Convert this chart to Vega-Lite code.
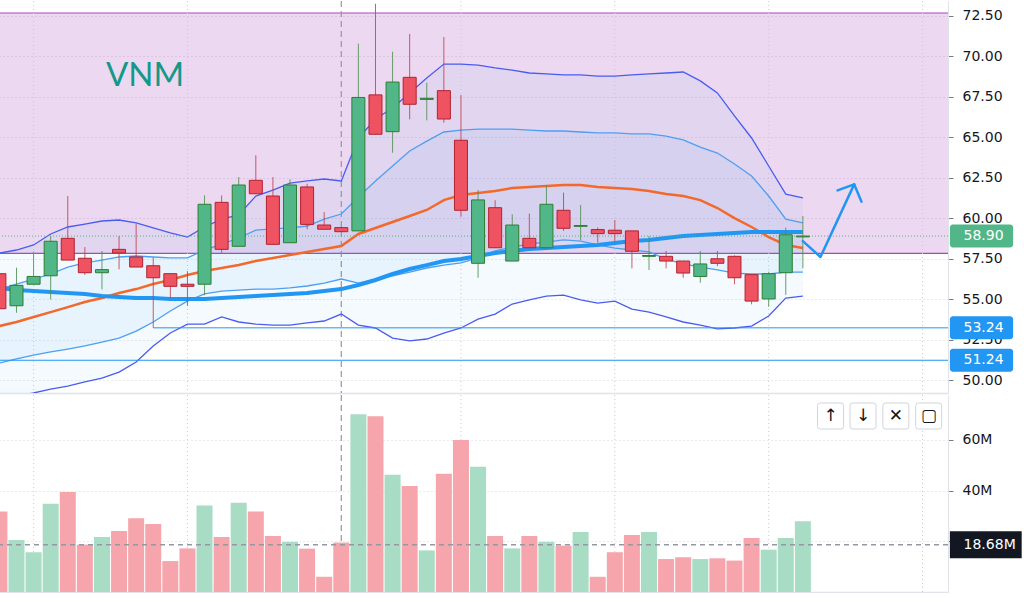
{
  "$schema": "https://vega.github.io/schema/vega-lite/v6.json",
  "padding": {"left": -4, "top": 0, "right": 0, "bottom": 0},
  "background": "white",
  "spacing": 0,
  "datasets": {
    "candles": [
      {"i":0,"o":56.58,"h":56.80,"l":54.10,"c":54.42,"v":31.8,"ub":57.85,"ib":55.63,"ma":53.35,"ma2":55.70,"il":51.07,"lb":48.85},
      {"i":1,"o":54.60,"h":56.95,"l":54.17,"c":55.86,"v":20.5,"ub":58.04,"ib":55.94,"ma":53.60,"ma2":55.57,"il":51.32,"lb":49.03},
      {"i":2,"o":55.93,"h":57.94,"l":55.90,"c":56.41,"v":15.7,"ub":58.35,"ib":56.25,"ma":53.91,"ma2":55.51,"il":51.56,"lb":49.22},
      {"i":3,"o":56.45,"h":58.90,"l":54.99,"c":58.58,"v":34.8,"ub":59.03,"ib":56.56,"ma":54.21,"ma2":55.45,"il":51.75,"lb":49.46},
      {"i":4,"o":58.76,"h":61.37,"l":57.42,"c":57.42,"v":39.5,"ub":59.46,"ib":56.99,"ma":54.52,"ma2":55.39,"il":51.93,"lb":49.65},
      {"i":5,"o":57.53,"h":58.22,"l":56.50,"c":56.64,"v":18.7,"ub":59.64,"ib":57.24,"ma":54.83,"ma2":55.33,"il":52.12,"lb":49.90},
      {"i":6,"o":56.64,"h":57.98,"l":55.61,"c":56.83,"v":21.7,"ub":59.83,"ib":57.42,"ma":55.08,"ma2":55.20,"il":52.36,"lb":50.14},
      {"i":7,"o":58.08,"h":58.90,"l":56.85,"c":57.86,"v":24.1,"ub":59.89,"ib":57.61,"ma":55.39,"ma2":55.14,"il":52.61,"lb":50.51},
      {"i":8,"o":57.61,"h":59.66,"l":56.99,"c":56.99,"v":29.1,"ub":59.71,"ib":57.67,"ma":55.63,"ma2":55.08,"il":53.04,"lb":51.13},
      {"i":9,"o":57.07,"h":57.57,"l":53.24,"c":56.33,"v":26.8,"ub":59.40,"ib":57.61,"ma":55.94,"ma2":55.08,"il":53.60,"lb":52.12},
      {"i":10,"o":56.58,"h":56.58,"l":55.06,"c":55.80,"v":12.2,"ub":59.09,"ib":57.55,"ma":56.19,"ma2":55.02,"il":54.28,"lb":52.92},
      {"i":11,"o":55.93,"h":56.74,"l":54.59,"c":55.80,"v":17.2,"ub":58.84,"ib":57.55,"ma":56.50,"ma2":55.02,"il":54.89,"lb":53.47},
      {"i":12,"o":55.93,"h":61.41,"l":55.25,"c":60.86,"v":34.1,"ub":59.46,"ib":58.04,"ma":56.74,"ma2":55.02,"il":55.33,"lb":53.47},
      {"i":13,"o":60.98,"h":61.41,"l":57.87,"c":58.08,"v":21.7,"ub":59.95,"ib":58.41,"ma":56.93,"ma2":55.08,"il":55.51,"lb":53.91},
      {"i":14,"o":58.27,"h":62.54,"l":58.27,"c":62.05,"v":35.2,"ub":60.20,"ib":58.78,"ma":57.11,"ma2":55.14,"il":55.57,"lb":53.60},
      {"i":15,"o":62.34,"h":63.88,"l":61.51,"c":61.51,"v":31.8,"ub":61.37,"ib":59.27,"ma":57.36,"ma2":55.20,"il":55.63,"lb":53.47},
      {"i":16,"o":61.37,"h":62.54,"l":58.39,"c":58.39,"v":22.1,"ub":61.74,"ib":59.34,"ma":57.55,"ma2":55.26,"il":55.63,"lb":53.41},
      {"i":17,"o":58.49,"h":62.40,"l":58.49,"c":62.05,"v":19.8,"ub":62.17,"ib":59.40,"ma":57.73,"ma2":55.33,"il":55.70,"lb":53.41},
      {"i":18,"o":61.93,"h":62.13,"l":59.32,"c":59.62,"v":17.1,"ub":62.30,"ib":59.52,"ma":57.92,"ma2":55.39,"il":55.82,"lb":53.54},
      {"i":19,"o":59.58,"h":60.38,"l":59.32,"c":59.32,"v":6.0,"ub":62.42,"ib":59.95,"ma":58.10,"ma2":55.51,"il":56.00,"lb":53.66},
      {"i":20,"o":59.42,"h":59.46,"l":59.15,"c":59.17,"v":19.5,"ub":62.30,"ib":60.26,"ma":58.29,"ma2":55.63,"il":56.25,"lb":54.09},
      {"i":21,"o":59.22,"h":70.77,"l":59.22,"c":67.45,"v":70.1,"ub":64.95,"ib":61.31,"ma":59.03,"ma2":55.88,"il":56.00,"lb":53.41},
      {"i":22,"o":67.61,"h":73.23,"l":65.18,"c":65.18,"v":69.3,"ub":66.12,"ib":62.30,"ma":59.40,"ma2":56.19,"il":56.25,"lb":53.23},
      {"i":23,"o":65.34,"h":70.27,"l":64.04,"c":68.40,"v":46.3,"ub":66.80,"ib":63.22,"ma":59.77,"ma2":56.56,"il":56.44,"lb":52.61},
      {"i":24,"o":68.69,"h":71.37,"l":66.10,"c":67.03,"v":41.8,"ub":67.73,"ib":64.15,"ma":60.14,"ma2":56.87,"il":56.68,"lb":52.43},
      {"i":25,"o":67.33,"h":68.36,"l":66.04,"c":67.40,"v":16.4,"ub":68.65,"ib":64.76,"ma":60.51,"ma2":57.11,"il":56.93,"lb":52.55},
      {"i":26,"o":67.87,"h":71.18,"l":65.89,"c":66.12,"v":46.7,"ub":69.51,"ib":65.32,"ma":61.12,"ma2":57.36,"il":57.11,"lb":52.92},
      {"i":27,"o":64.81,"h":67.60,"l":60.09,"c":60.49,"v":60.0,"ub":69.51,"ib":65.44,"ma":61.43,"ma2":57.48,"il":57.24,"lb":53.23},
      {"i":28,"o":57.22,"h":61.74,"l":56.33,"c":61.13,"v":49.4,"ub":69.45,"ib":65.50,"ma":61.56,"ma2":57.67,"il":57.55,"lb":53.78},
      {"i":29,"o":60.65,"h":61.11,"l":58.18,"c":58.18,"v":22.1,"ub":69.27,"ib":65.50,"ma":61.68,"ma2":57.85,"il":57.98,"lb":54.09},
      {"i":30,"o":57.36,"h":60.24,"l":57.36,"c":59.58,"v":17.2,"ub":69.14,"ib":65.50,"ma":61.86,"ma2":57.98,"il":58.22,"lb":54.71},
      {"i":31,"o":58.76,"h":60.29,"l":58.18,"c":58.18,"v":22.1,"ub":68.96,"ib":65.44,"ma":61.93,"ma2":58.10,"il":58.41,"lb":54.96},
      {"i":32,"o":58.18,"h":62.05,"l":58.18,"c":60.86,"v":19.8,"ub":68.90,"ib":65.38,"ma":61.99,"ma2":58.16,"il":58.53,"lb":55.20},
      {"i":33,"o":60.49,"h":61.58,"l":59.22,"c":59.38,"v":18.3,"ub":68.84,"ib":65.38,"ma":62.05,"ma2":58.22,"il":58.66,"lb":55.26},
      {"i":34,"o":59.50,"h":60.82,"l":58.64,"c":59.55,"v":23.7,"ub":68.84,"ib":65.32,"ma":62.05,"ma2":58.29,"il":58.59,"lb":54.96},
      {"i":35,"o":59.30,"h":59.43,"l":58.49,"c":59.05,"v":6.0,"ub":68.77,"ib":65.26,"ma":61.93,"ma2":58.35,"il":58.35,"lb":54.77},
      {"i":36,"o":59.26,"h":59.89,"l":58.56,"c":59.05,"v":15.7,"ub":68.77,"ib":65.26,"ma":61.86,"ma2":58.47,"il":58.16,"lb":54.89},
      {"i":37,"o":59.22,"h":59.22,"l":56.91,"c":57.96,"v":22.5,"ub":68.84,"ib":65.20,"ma":61.80,"ma2":58.59,"il":58.04,"lb":54.40},
      {"i":38,"o":57.65,"h":58.90,"l":56.81,"c":57.70,"v":23.7,"ub":68.90,"ib":65.20,"ma":61.68,"ma2":58.66,"il":57.92,"lb":54.21},
      {"i":39,"o":57.65,"h":57.98,"l":56.91,"c":57.36,"v":13.0,"ub":68.96,"ib":65.07,"ma":61.49,"ma2":58.78,"il":57.48,"lb":53.91},
      {"i":40,"o":57.36,"h":57.36,"l":56.33,"c":56.62,"v":13.7,"ub":69.02,"ib":64.83,"ma":61.37,"ma2":58.90,"il":57.18,"lb":53.60},
      {"i":41,"o":56.41,"h":57.98,"l":56.02,"c":57.18,"v":13.0,"ub":68.47,"ib":64.39,"ma":61.12,"ma2":58.97,"il":56.99,"lb":53.41},
      {"i":42,"o":57.50,"h":57.98,"l":57.05,"c":57.22,"v":13.3,"ub":67.73,"ib":64.02,"ma":60.63,"ma2":59.03,"il":56.81,"lb":53.17},
      {"i":43,"o":57.65,"h":57.71,"l":55.93,"c":56.33,"v":12.4,"ub":66.31,"ib":63.35,"ma":60.01,"ma2":59.09,"il":56.62,"lb":53.23},
      {"i":44,"o":56.52,"h":56.52,"l":54.69,"c":54.89,"v":21.3,"ub":64.95,"ib":62.60,"ma":59.46,"ma2":59.15,"il":56.56,"lb":53.35},
      {"i":45,"o":55.02,"h":56.70,"l":54.54,"c":56.58,"v":16.7,"ub":63.22,"ib":61.37,"ma":58.84,"ma2":59.15,"il":56.56,"lb":53.97},
      {"i":46,"o":56.64,"h":59.42,"l":55.27,"c":58.98,"v":21.3,"ub":61.49,"ib":59.95,"ma":58.35,"ma2":59.15,"il":56.68,"lb":55.08},
      {"i":47,"o":58.85,"h":60.14,"l":56.91,"c":58.90,"v":27.9,"ub":61.25,"ib":59.71,"ma":58.16,"ma2":59.15,"il":56.68,"lb":55.20}
    ],
    "gridx": [{"i":2},{"i":11},{"i":27},{"i":36},{"i":45},{"i":54}]
  },
  "config": {
    "view": {"stroke": null},
    "scale": {"continuousPadding": 0},
    "axis": {
      "labelFont": "DejaVu Sans",
      "labelFontSize": 14,
      "labelColor": "#131722",
      "tickColor": "#787b86",
      "tickSize": 5,
      "labelPadding": 9,
      "domainColor": "#e0e3eb",
      "gridColor": "#d1d4dc",
      "gridDash": [1, 3]
    }
  },
  "vconcat": [
    {
      "width": 951,
      "height": 392,
      "layer": [
        {
          "data": {"values": [{"lo": 57.83, "hi": 72.66}]},
          "mark": {"type": "rect", "fill": "#9c27b0", "opacity": 0.18, "clip": true},
          "encoding": {
            "y": {"field": "lo", "type": "quantitative", "title": null,
              "scale": {"domain": [49.22, 73.40], "nice": false, "zero": false, "padding": 0},
              "axis": {"orient": "right", "values": [50, 52.5, 55, 57.5, 60, 62.5, 65, 67.5, 70, 72.5], "format": ".2f", "grid": true}},
            "y2": {"field": "hi"}
          }
        },
        {
          "data": {"values": [{"p": 57.83}, {"p": 72.66}]},
          "mark": {"type": "rule", "stroke": "#ab47bc", "strokeWidth": 1.2},
          "encoding": {"y": {"field": "p", "type": "quantitative", "title": null}}
        },
        {
          "data": {"name": "gridx"},
          "mark": {"type": "rule", "stroke": "#c8cbd3", "strokeDash": [1, 3]},
          "encoding": {
            "x": {"field": "i", "type": "quantitative", "title": null,
              "scale": {"domain": [-0.14, 55.49], "nice": false, "zero": false, "padding": 0},
              "axis": {"orient": "bottom", "labels": false, "ticks": false, "grid": false, "domain": true, "domainWidth": 1.5}}
          }
        },
        {
          "data": {"values": [{"i": 20}]},
          "mark": {"type": "rule", "stroke": "#9598a1", "strokeDash": [6, 4], "strokeWidth": 1.2},
          "encoding": {"x": {"field": "i", "type": "quantitative", "title": null}}
        },
        {
          "data": {"name": "candles"},
          "mark": {"type": "area", "fill": "#2196f3", "opacity": 0.05, "clip": true},
          "encoding": {
            "x": {"field": "i", "type": "quantitative", "title": null},
            "y": {"field": "ub", "type": "quantitative", "title": null},
            "y2": {"field": "lb"}
          }
        },
        {
          "data": {"name": "candles"},
          "mark": {"type": "area", "fill": "#2196f3", "opacity": 0.06, "clip": true},
          "encoding": {
            "x": {"field": "i", "type": "quantitative", "title": null},
            "y": {"field": "ib", "type": "quantitative", "title": null},
            "y2": {"field": "il"}
          }
        },
        {
          "data": {"name": "candles"},
          "mark": {"type": "line", "stroke": "#4a5cf0", "strokeWidth": 1.3, "clip": true},
          "encoding": {"x": {"field": "i", "type": "quantitative", "title": null}, "y": {"field": "ub", "type": "quantitative", "title": null}}
        },
        {
          "data": {"name": "candles"},
          "mark": {"type": "line", "stroke": "#4a5cf0", "strokeWidth": 1.3, "clip": true},
          "encoding": {"x": {"field": "i", "type": "quantitative", "title": null}, "y": {"field": "lb", "type": "quantitative", "title": null}}
        },
        {
          "data": {"name": "candles"},
          "mark": {"type": "line", "stroke": "#4d9ff2", "strokeWidth": 1.3, "clip": true},
          "encoding": {"x": {"field": "i", "type": "quantitative", "title": null}, "y": {"field": "ib", "type": "quantitative", "title": null}}
        },
        {
          "data": {"name": "candles"},
          "mark": {"type": "line", "stroke": "#4d9ff2", "strokeWidth": 1.3, "clip": true},
          "encoding": {"x": {"field": "i", "type": "quantitative", "title": null}, "y": {"field": "il", "type": "quantitative", "title": null}}
        },
        {
          "data": {"name": "candles"},
          "mark": {"type": "line", "stroke": "#f2692b", "strokeWidth": 2.5, "clip": true},
          "encoding": {"x": {"field": "i", "type": "quantitative", "title": null}, "y": {"field": "ma", "type": "quantitative", "title": null}}
        },
        {
          "data": {"name": "candles"},
          "mark": {"type": "line", "stroke": "#2196f3", "strokeWidth": 4, "clip": true},
          "encoding": {"x": {"field": "i", "type": "quantitative", "title": null}, "y": {"field": "ma2", "type": "quantitative", "title": null}}
        },
        {
          "data": {"values": [{"p": 53.24, "from": 9}, {"p": 51.24, "from": -0.14}]},
          "mark": {"type": "rule", "stroke": "#2196f3", "strokeWidth": 1},
          "encoding": {
            "x": {"field": "from", "type": "quantitative", "title": null},
            "x2": {"datum": 55.49},
            "y": {"field": "p", "type": "quantitative", "title": null}
          }
        },
        {
          "data": {"values": [{"p": 58.90}]},
          "mark": {"type": "rule", "stroke": "#52b788", "strokeDash": [1, 2], "strokeWidth": 1},
          "encoding": {"y": {"field": "p", "type": "quantitative", "title": null}}
        },
        {
          "data": {"name": "candles"},
          "mark": {"type": "rule", "strokeWidth": 1, "opacity": 0.85, "clip": true},
          "encoding": {
            "x": {"field": "i", "type": "quantitative", "title": null},
            "y": {"field": "l", "type": "quantitative", "title": null},
            "y2": {"field": "h"},
            "stroke": {"condition": {"test": "datum.c >= datum.o", "value": "#4f8f4f"}, "value": "#c0414d"}
          }
        },
        {
          "data": {"name": "candles"},
          "mark": {"type": "bar", "size": 13, "strokeWidth": 1, "clip": true},
          "encoding": {
            "x": {"field": "i", "type": "quantitative", "title": null},
            "y": {"field": "o", "type": "quantitative", "title": null},
            "y2": {"field": "c"},
            "fill": {"condition": {"test": "datum.c >= datum.o", "value": "#52b788"}, "value": "#ef5361"},
            "stroke": {"condition": {"test": "datum.c >= datum.o", "value": "#2e7d32"}, "value": "#b2222f"}
          }
        },
        {
          "data": {"values": [{"t": "VNM"}]},
          "mark": {"type": "text", "font": "Lato", "fontSize": 33, "color": "#13998a", "align": "center", "baseline": "alphabetic"},
          "encoding": {"x": {"datum": 8.52}, "y": {"datum": 68.16}, "text": {"field": "t"}}
        },
        {
          "data": {"values": [
            {"seg": 1, "k": 1, "x": 47.0, "p": 58.59},
            {"seg": 1, "k": 2, "x": 48.03, "p": 57.61},
            {"seg": 1, "k": 3, "x": 50.0, "p": 62.09},
            {"seg": 2, "k": 1, "x": 49.03, "p": 61.72},
            {"seg": 2, "k": 2, "x": 50.0, "p": 62.09},
            {"seg": 2, "k": 3, "x": 50.43, "p": 61.02}
          ]},
          "mark": {"type": "line", "stroke": "#2196f3", "strokeWidth": 2.5, "strokeCap": "round", "strokeJoin": "round"},
          "encoding": {
            "x": {"field": "x", "type": "quantitative", "title": null},
            "y": {"field": "p", "type": "quantitative", "title": null},
            "detail": {"field": "seg"},
            "order": {"field": "k"}
          }
        },
        {
          "data": {"values": [{"p": 58.90, "kind": "close"}, {"p": 53.24, "kind": "level"}, {"p": 51.24, "kind": "level"}]},
          "mark": {"type": "bar", "size": 23, "cornerRadius": 3, "orient": "horizontal"},
          "encoding": {
            "x": {"datum": 55.6},
            "x2": {"datum": 59.3},
            "y": {"field": "p", "type": "quantitative", "title": null},
            "fill": {"field": "kind", "type": "nominal", "scale": {"domain": ["close", "level"], "range": ["#52b788", "#2196f3"]}, "legend": null}
          }
        },
        {
          "data": {"values": [{"p": 58.90}, {"p": 53.24}, {"p": 51.24}]},
          "mark": {"type": "text", "font": "DejaVu Sans", "fontSize": 14, "color": "white", "align": "left", "baseline": "middle"},
          "encoding": {
            "x": {"datum": 56.4},
            "y": {"field": "p", "type": "quantitative", "title": null},
            "text": {"field": "p", "type": "quantitative", "format": ".2f"}
          }
        }
      ]
    },
    {
      "width": 951,
      "height": 197,
      "layer": [
        {
          "data": {"name": "gridx"},
          "mark": {"type": "rule", "stroke": "#c8cbd3", "strokeDash": [1, 3]},
          "encoding": {
            "x": {"field": "i", "type": "quantitative", "title": null,
              "scale": {"domain": [-0.14, 55.49], "nice": false, "zero": false, "padding": 0},
              "axis": {"orient": "bottom", "labels": false, "ticks": false, "grid": false, "domain": true, "domainWidth": 1.5}}
          }
        },
        {
          "data": {"values": [{"i": 20}]},
          "mark": {"type": "rule", "stroke": "#9598a1", "strokeDash": [6, 4], "strokeWidth": 1.2},
          "encoding": {"x": {"field": "i", "type": "quantitative", "title": null}}
        },
        {
          "data": {"name": "candles"},
          "mark": {"type": "bar", "size": 16, "clip": true},
          "encoding": {
            "x": {"field": "i", "type": "quantitative", "title": null},
            "y": {"field": "v", "type": "quantitative", "title": null,
              "scale": {"domain": [0, 77.72], "nice": false, "padding": 0},
              "axis": {"orient": "right", "values": [20, 40, 60], "labelExpr": "datum.value + 'M'", "grid": true}},
            "fill": {"condition": {"test": "datum.c >= datum.o", "value": "#a8dcc4"}, "value": "#f5a5ab"}
          }
        },
        {
          "data": {"values": [{"v": 18.68}]},
          "mark": {"type": "rule", "stroke": "#9598a1", "strokeDash": [5, 4], "strokeWidth": 1.5},
          "encoding": {"y": {"field": "v", "type": "quantitative", "title": null}}
        },
        {
          "data": {"values": [{"v": 18.68}]},
          "mark": {"type": "bar", "size": 27, "fill": "#131722", "orient": "horizontal"},
          "encoding": {
            "x": {"datum": 55.6},
            "x2": {"datum": 59.8},
            "y": {"field": "v", "type": "quantitative", "title": null}
          }
        },
        {
          "data": {"values": [{"v": 18.68, "t": "18.68M"}]},
          "mark": {"type": "text", "font": "DejaVu Sans", "fontSize": 14, "color": "white", "align": "left", "baseline": "middle"},
          "encoding": {
            "x": {"datum": 56.4},
            "y": {"field": "v", "type": "quantitative", "title": null},
            "text": {"field": "t"}
          }
        },
        {
          "data": {"values": [{"icon": "↑", "col": 48.62}, {"icon": "↓", "col": 50.52}, {"icon": "✕", "col": 52.44}, {"icon": "▢", "col": 54.36}]},
          "mark": {"type": "point", "shape": "M -0.8 -1 L 0.8 -1 Q 1 -1 1 -0.8 L 1 0.8 Q 1 1 0.8 1 L -0.8 1 Q -1 1 -1 0.8 L -1 -0.8 Q -1 -1 -0.8 -1 Z", "size": 676, "filled": true, "fill": "white", "stroke": "#d1d4dc", "strokeWidth": 1, "opacity": 1},
          "encoding": {
            "x": {"field": "col", "type": "quantitative", "title": null},
            "y": {"datum": 69.43}
          }
        },
        {
          "data": {"values": [{"icon": "↑", "col": 48.62}, {"icon": "↓", "col": 50.52}, {"icon": "✕", "col": 52.44}, {"icon": "▢", "col": 54.36}]},
          "mark": {"type": "text", "font": "DejaVu Sans", "fontSize": 17, "color": "#131722", "align": "center", "baseline": "middle"},
          "encoding": {
            "x": {"field": "col", "type": "quantitative", "title": null},
            "y": {"datum": 69.43},
            "text": {"field": "icon"}
          }
        }
      ]
    }
  ]
}
